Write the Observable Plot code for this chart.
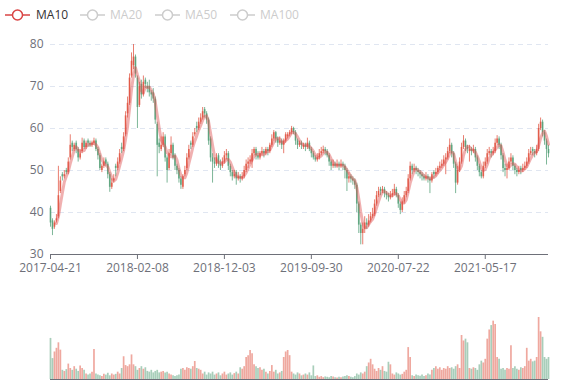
<!DOCTYPE html>
<html><head><meta charset="utf-8">
<script src="https://cdn.jsdelivr.net/npm/d3@7"></script>
<script src="https://cdn.jsdelivr.net/npm/@observablehq/plot@0.6"></script>
<style>
body{margin:0;background:#fff;font-family:"Open Sans",sans-serif}
#wrap{position:relative;width:577px;height:380px;overflow:hidden}
#legend{position:absolute;left:0;top:0;width:577px;height:28px}
.item{position:absolute;top:7px;height:16px;line-height:16px;font-size:12px;white-space:nowrap}
.item svg{position:absolute;left:0;top:0}
.item span{position:absolute;top:0}
#p1{position:absolute;left:0;top:0}
#p2{position:absolute;left:0;top:290px}
</style></head><body>
<div id="wrap"><div id="p1"></div><div id="p2"></div><div id="legend"></div></div>
<script>
const maNames = ["MA10","MA20","MA50","MA100"];
const tickIdx = [0,44,88,132,176,220];
const tickLabels = ["2017-04-21","2018-02-08","2018-12-03","2019-09-30","2020-07-22","2021-05-17"];
const yTicks = [30,40,50,60,70,80];

const open = [
41,38,36.5,38,39,45,49,48.5,50,49.5,
53,56.5,55,56.5,55,53,54.5,57,55.5,57,
56.5,56,56.5,57,55,53.5,50,51,52.5,51.5,
49,46,47.5,51,50.5,52,55.5,55,58.5,63.5,
66,72.5,75,77,72,65.5,70.5,68,71.5,70,
70,68.5,68.5,67,61,56.5,55,56,58,53,
50.5,54,56,53.5,51,50,48,46,49,50.5,
53,56.5,56,58.5,60.5,60,61.5,62.5,64.5,63.5,
62,57.5,53,52,51.5,53.5,51.5,51,52,53.5,
54,51,49.5,48.5,49.5,48,48.5,48,48.5,50,
51.5,52,52,54,55,53.5,53,54,54.5,54,
55,54.5,56,57.5,59,57.5,56.5,57,56,57,
58,58.5,59,60,59,57,56,56.5,55.5,56,
55.5,56.5,55,54,53,52.5,53,54,54.5,55,
54.5,53.5,52,51,51.5,51,51.5,51,51.5,51,
50,48,48.5,48,47.5,46.5,42,37,35,36,
37.5,37,38,39,39.5,42,44,45.5,45,45.5,
44.5,44,43.5,44,44.5,45.5,44,42,40.5,42.5,
44,45,48,51,50,50.5,50,49.5,49,48.5,
48,48.5,48,47.5,49.5,49,49.5,50.5,51,51.5,
52.5,53,54.5,56,54,51.5,47,50,52,55.5,
57,55.5,54.5,55,54.5,55,53,51,49.5,48.5,
51,52,54,54.5,54,54.5,56.5,57.5,56,53.5,
50.5,50,50.5,52,53,51,50,49.5,50.5,50,
50.5,51,52,54,55,54.5,54,55,60,61.5,
59,57,55];
const close = [
37.5,36,37.5,38.5,44,47.5,48.5,49,49.5,52,
56,55.5,56,55,53,54,56.5,55.5,56.5,56.5,
56,56.5,57,55,53.5,50.5,51,52,51.5,49,
46,47,48,50.5,52,54,55,58,63,66,
72,76,77,73,65,70,68,71,70.5,69.5,
68.5,68,67,62,56,55.5,56,58,53,50,
54,56,53,51,50,48,46.5,48.5,50,53,
55,56,58,59,60,61.5,62.5,64,63.5,62,
57,53,52,51.5,53,51.5,51,52,53.5,54,
51,49.5,48.5,49,48,48.5,48,48.5,50,51.5,
52,52.5,54,55,53.5,53,54,54.5,54,55,
54.5,56,57.5,59,57.5,56.5,57,56,57,58.5,
58.5,59,60,59,57,56,56.5,56,56,55.5,
56.5,55,54,53,52.5,53,54,54.5,55,54.5,
53.5,52,51,51.5,51,51.5,51,51.5,51,50,
48,48.5,48,47.5,46.5,42,37,35,36,37.5,
37,38,39,39.5,42,44,45,45,45.5,44.5,
44,43.5,44,44.5,45.5,44,42,40.5,42.5,44,
45,48,51,50,50.5,50,49.5,49,48.5,48,
48.5,48,47.5,49,49,49.5,50.5,51,51.5,52.5,
53,54.5,56,54,51.5,47,50,52,55.5,57,
55.5,55,55,54.5,55,53,51,49.5,48.5,51,
52,54,54.5,54,54.5,56.5,57.5,56,53.5,50.5,
50,50.5,52,53,51,50,49.5,50,50,50.5,
51,52,54,54.5,54.5,54,55,60,61.5,59,
57,55,54];
const high = [
41.5,38.5,38,39.5,51,48.5,49.5,50,50.5,53,
58.5,57,56.5,57,55.5,55,57.7,57.5,57,57.5,
57,57,57.7,57.5,55.5,54,51.5,53,53,52,
49.5,48,49,51.5,53,55,56.5,59,64,67.5,
73,78,80,77.5,72.5,71,71.5,72.5,72,71,
71.5,69,69.5,67.5,61.5,57.5,58,59,58.5,53.5,
55,58,56.5,54,51.5,50.5,48.5,49,51,54,
56,57,59,60,61.5,62.5,63.5,65,65,64,
62.5,58,54,53,54,54,52.5,53,54.5,55,
54.5,51.5,50,50,50,49.5,49,49.5,51,52.5,
53,53.5,55,55.5,55.5,54.5,54.5,55.5,55,55.5,
55.5,56.5,58.5,59.5,59.3,58,58,57.5,57.5,59,
59,59.5,60.5,60.3,59.5,57.5,57,57,56.5,56.5,
57.7,57,55.5,54.5,53.5,54,55,55.5,55.8,55.5,
55,54,52.5,52.5,52,52.5,52,52.5,52,51.5,
50.5,49.5,49,48.5,48,47,42.5,37.5,37.5,39,
38.5,39.5,40,41,43,45,46,46,46.2,46,
45,44.5,45,45.5,46.7,46,44.5,42.5,43.5,45,
46,49,52,51.5,51.5,51,50.5,50,49.5,49,
49.5,49,48.5,49.5,50,50.5,51,52,52.5,53.5,
54,55.5,57.5,56.5,54.5,52,51,53,56.5,58.3,
57.5,56,56,55.5,56,55.5,53.5,51.5,50,52,
53,55,55.5,55,55.5,57.5,58.3,58,56.5,54,
51.5,51.5,53,54,53.5,51.5,50.5,51,51,51.5,
52,53,55,55.5,55.5,55,56,61,62.5,62,
59.5,57.5,56];
const low = [
36.5,34.5,36,37.5,38.5,44.5,47.5,48,49,49,
52.5,54.5,54.5,54,52,52.5,54,55,55,55.5,
55.5,55.5,56,54.5,52.5,50,49.5,50.5,51,48,
44.8,45.5,47,48.5,50,51.5,54,54.5,58,62.5,
65.5,72,74,72,60,65,67,67.5,69.5,68.5,
67.5,66.5,66,61,48.5,54,54.5,55.5,52,47,
50,53.5,52.5,50,49,47,45.5,45.5,48.5,50,
52.5,55,55.5,58,59,59.5,61,62,62.5,61,
56,52,47,50.5,51,50.5,50,50.5,51.5,52.5,
50,48.5,47.5,48,46.5,47.5,47,47.5,48,49.5,
50.5,51.5,50.5,53.5,52.5,52.5,52.5,53.5,53,53.5,
53.5,54,55.5,57,56.5,55.5,56,55,54,56.5,
57.5,58,58.5,58.5,56,55,55.5,55,55,54.5,
55,54.5,53,52.5,52,52,52.5,53.5,54,53.5,
53,51,50,50.5,50.5,50.5,50,50.5,50,48,
45,47,47,46.5,45.5,40,35,32.3,32.3,35,
36,36.5,37.5,38.5,39,41.5,43.5,44,44.5,43.5,
43,42.5,43,43.5,44,43.5,41,39.5,40,42,
43.5,44.5,47.5,49,49.5,49,48.5,48,47.5,47.5,
47.5,47,44.5,47,48,48.5,49,50,50.5,51,
49,52.5,54,53,50.5,44.5,46.5,49.5,51.5,55,
54.5,54,52,53.5,54,52,50,48.5,48,48,
50.5,51.5,53.5,53,53.5,54,56,55,52.5,49.5,
48.5,48,50,51.5,50,49,48.5,49,49,49.5,
50,50.5,51.5,53.5,53.5,53,53.5,54.5,59.5,58,
56,51.3,53];
const volume = [
112,57,75,85,100,80,25,22,27,42,
30,25,35,28,22,37,30,25,15,12,
15,20,82,15,12,10,8,14,12,17,
10,15,12,14,20,15,30,62,38,35,
40,67,40,35,25,30,35,28,32,22,
20,25,18,22,25,18,20,22,18,20,
15,12,10,8,10,12,28,30,25,32,
30,28,35,49,30,28,25,15,20,12,
18,15,20,12,15,18,10,15,20,12,
15,18,12,16,20,15,32,28,35,60,
65,79,70,40,35,30,32,25,28,20,
15,22,38,20,25,15,18,22,60,75,
79,65,20,15,12,18,15,10,12,15,
12,18,10,37,8,10,6,8,5,7,
6,5,8,7,5,4,6,5,7,8,
10,8,6,5,8,15,12,18,15,20,
35,45,55,40,28,22,30,25,35,22,
20,47,40,15,12,18,15,12,14,20,
25,87,60,10,8,12,10,9,12,8,
10,15,12,25,30,35,28,32,25,30,
28,35,30,32,28,35,40,30,120,105,
110,100,30,28,32,30,25,40,50,45,
55,110,135,147,159,150,60,55,28,30,
25,30,28,92,30,35,28,25,32,30,
35,85,50,55,48,50,60,169,130,115,
60,55,60];

const UP = "#e0513f", DOWN = "#529d76", MA_COLOR = "#dd5050", AXIS = "#6e7079";
const data = close.map((c, i) => ({i, open: open[i], close: c, high: high[i], low: low[i], vol: volume[i], dir: c >= open[i] ? "up" : "down"}));

const fontStyle = {fontFamily: "'Open Sans', sans-serif", fontSize: "12px", color: AXIS, background: "transparent", overflow: "visible"};

const p1 = Plot.plot({
  width: 577, height: 280, marginLeft: 50, marginRight: 29, marginTop: 44, marginBottom: 26,
  style: fontStyle,
  x: {domain: [0, 252], ticks: tickIdx, tickFormat: d => tickLabels[tickIdx.indexOf(d)], tickSize: 5, tickPadding: 4, label: null},
  y: {domain: [30, 80], ticks: yTicks, tickSize: 0, tickPadding: 7, label: null},
  color: {domain: ["up", "down"], range: [UP, DOWN]},
  marks: [
    Plot.ruleY(yTicks.filter(v => v > 30), {stroke: "#e0e6f1", strokeDasharray: "5,4", strokeWidth: 1}),
    Plot.ruleX(data, {x: "i", y1: "low", y2: "high", stroke: "dir", strokeWidth: 1, strokeOpacity: 0.75}),
    Plot.ruleX(data, {x: "i", y1: "open", y2: "close", stroke: "dir", strokeWidth: 1.7, strokeOpacity: 0.8}),
    Plot.lineY(data, Plot.windowY({k: 4, anchor: "end", strict: true}, {x: "i", y: "close", stroke: MA_COLOR, strokeWidth: 3, strokeOpacity: 0.45})),
    Plot.ruleY([30], {stroke: AXIS, strokeWidth: 1})
  ]
});
document.getElementById("p1").appendChild(p1);

const p2 = Plot.plot({
  width: 577, height: 90, marginLeft: 50, marginRight: 29, marginTop: 27, marginBottom: 1,
  style: fontStyle,
  x: {domain: [0, 252], axis: null},
  y: {domain: [0, 169], axis: null},
  color: {domain: ["up", "down"], range: [UP, DOWN]},
  marks: [
    Plot.ruleX(data, {x: "i", y1: 0, y2: "vol", stroke: "dir", strokeWidth: 1.7, strokeOpacity: 0.5}),
    Plot.ruleY([0], {stroke: AXIS, strokeWidth: 1})
  ]
});
document.getElementById("p2").appendChild(p2);

// legend
const legendPos = [[5, 36], [80, 110], [155, 185], [230, 260]];
const leg = document.getElementById("legend");
maNames.forEach((name, k) => {
  const active = k === 0;
  const col = active ? "#d94444" : "#cccccc";
  const txt = active ? "#333333" : "#cccccc";
  const div = document.createElement("div");
  div.className = "item";
  div.style.left = legendPos[k][0] + "px";
  div.innerHTML = `<svg width="26" height="16"><line x1="0" y1="8" x2="25" y2="8" stroke="${col}" stroke-width="1.5"/><circle cx="12.5" cy="8" r="5" fill="#fff" stroke="${col}" stroke-width="1.5"/></svg><span style="left:${legendPos[k][1] - legendPos[k][0]}px;color:${txt}">${name}</span>`;
  leg.appendChild(div);
});
</script>
</body></html>
